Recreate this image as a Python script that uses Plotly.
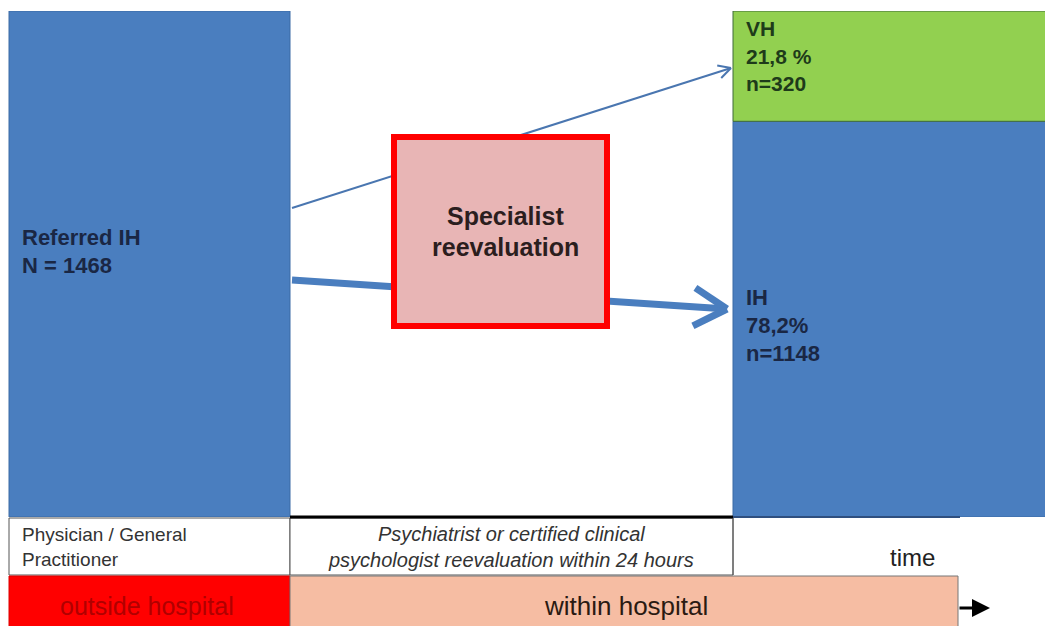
import math
import plotly.graph_objects as go

# ---------------- data ----------------
stages = ["Referred IH", "Specialist reevaluation outcome"]
referred_total = 1468
outcome_labels = ["IH", "VH"]
outcome_counts = [1148, 320]
outcome_colors = ["#4A7EBF", "#92D050"]
row_labels = ["Physician / General<br>Practitioner",
              "<i>Psychiatrist or certified clinical<br>psychologist reevaluation within 24 hours</i>",
              "time"]
place_labels = ["outside hospital", "within hospital"]

OFF = 0  # body margin removed via post_script
W, H = 1045, 626
FONT = "Liberation Sans, Arial, sans-serif"


def px(x):
    return (x - OFF) / W


def py(y):
    return 1 - (y - OFF) / H


fig = go.Figure()

# left bar (referred)
fig.add_trace(go.Bar(x=[149.5], y=[referred_total], width=[281], base=[0],
                     marker=dict(color="#4A7EBF", line=dict(color="#3A6AA5", width=1)),
                     hoverinfo="skip"))
# right stacked bars (outcomes)
base = 0
for lab, cnt, col in zip(outcome_labels, outcome_counts, outcome_colors):
    fig.add_trace(go.Bar(x=[891], y=[cnt], width=[316], base=[base],
                         marker=dict(color=col, line=dict(color="#3E6A3A" if lab == "VH" else "#3A6AA5", width=1)),
                         hoverinfo="skip", name=lab))
    base += cnt

shapes = []


def line(x0, y0, x1, y1, color, width):
    shapes.append(dict(type="line", xref="paper", yref="paper",
                       x0=px(x0), y0=py(y0), x1=px(x1), y1=py(y1),
                       line=dict(color=color, width=width), layer="above"))


def rect(x0, y0, x1, y1, fill, lc=None, lw=0):
    shapes.append(dict(type="rect", xref="paper", yref="paper",
                       x0=px(x0), y0=py(y0), x1=px(x1), y1=py(y1),
                       fillcolor=fill, line=dict(color=lc or fill, width=lw), layer="above"))


def arrow(x0, y0, x1, y1, color, width, head_len, head_ang):
    line(x0, y0, x1, y1, color, width)
    ang = math.atan2(y1 - y0, x1 - x0)
    for s in (1, -1):
        a = ang + math.pi + s * math.radians(head_ang)
        line(x1, y1, x1 + head_len * math.cos(a), y1 + head_len * math.sin(a), color, width)


# arrows (behind the box)
arrow(292, 208, 731, 68, "#4A76B0", 2, 14, 28)
arrow(292, 280, 727, 309, "#4A7EBF", 7, 38, 30)

# specialist box
rect(394, 137, 607, 326, "#E8B5B5", "#FF0000", 6)

# bottom cells
rect(9, 518, 290, 575, "white", "#555555", 1)
rect(290, 518, 733, 575, "white", "#555555", 1)
line(290, 517, 733, 517, "black", 3)
line(733, 518, 733, 575, "#555555", 1)
line(733, 517, 960, 517, "#2F4F7F", 2)

# place bars
rect(9, 576, 290, 630, "#FF0000", "#DD0000", 1)
rect(290, 576, 958, 630, "#F6BDA3", "#777777", 1)

annotations = []


def text(x, y, s, size, color, bold=False, anchor="left"):
    if bold:
        s = f"<b>{s}</b>"
    annotations.append(dict(xref="paper", yref="paper", x=px(x), y=py(y), text=s,
                            showarrow=False, xanchor=anchor, yanchor="middle",
                            font=dict(family=FONT, size=size, color=color)))


NAVY = "#1A2744"
text(20, 237, "Referred IH", 22, NAVY, bold=True)
text(20, 265, f"N = {referred_total}", 22, NAVY, bold=True)

vh_n = outcome_counts[1]
ih_n = outcome_counts[0]
tot = sum(outcome_counts)
vh_pct = f"{100 * vh_n / tot:.1f}".replace(".", ",")
ih_pct = f"{100 * ih_n / tot:.1f}".replace(".", ",")
GREEN_T = "#1E3B1A"
text(744, 29, outcome_labels[1], 21, GREEN_T, bold=True)
text(744, 56, f"{vh_pct} %", 21, GREEN_T, bold=True)
text(744, 84, f"n={vh_n}", 21, GREEN_T, bold=True)
text(744, 297, outcome_labels[0], 22, NAVY, bold=True)
text(744, 325, f"{ih_pct}%", 22, NAVY, bold=True)
text(744, 353, f"n={ih_n}", 22, NAVY, bold=True)

text(505, 216, "Specialist", 25, "#2B1E1E", bold=True, anchor="center")
text(505, 247, "reevaluation", 25, "#2B1E1E", bold=True, anchor="center")

annotations.append(dict(xref="paper", yref="paper", x=px(20), y=py(547), text=row_labels[0],
                        showarrow=False, xanchor="left", yanchor="middle", align="left",
                        font=dict(family=FONT, size=19, color="#333333")))
annotations.append(dict(xref="paper", yref="paper", x=px(511), y=py(547), text=row_labels[1],
                        showarrow=False, xanchor="center", yanchor="middle", align="center",
                        font=dict(family=FONT, size=20, color="#333333")))
text(912, 557, row_labels[2], 24, "#222222", anchor="center")

text(147, 606, place_labels[0], 25, "#B00000", anchor="center")
text(626, 606, place_labels[1], 26, "#2A1A12", anchor="center")

# time arrow
annotations.append(dict(xref="paper", yref="paper", axref="pixel", ayref="pixel",
                        x=px(990), y=py(608), ax=-32, ay=0, text="",
                        showarrow=True, arrowhead=2, arrowsize=1.2, arrowwidth=3,
                        arrowcolor="black"))

fig.update_layout(
    width=W, height=H,
    margin=dict(l=0, r=0, t=0, b=0),
    paper_bgcolor="white", plot_bgcolor="white",
    showlegend=False, barmode="overlay",
    xaxis=dict(range=[OFF, 1045], domain=[0, 1], visible=False, fixedrange=True),
    yaxis=dict(range=[0, referred_total], domain=[py(517), py(11)], visible=False, fixedrange=True),
    shapes=shapes, annotations=annotations,
)

fig.write_html("out.html", config={"displayModeBar": False},
               post_script="document.body.style.margin='0';document.body.style.overflow='hidden';")
